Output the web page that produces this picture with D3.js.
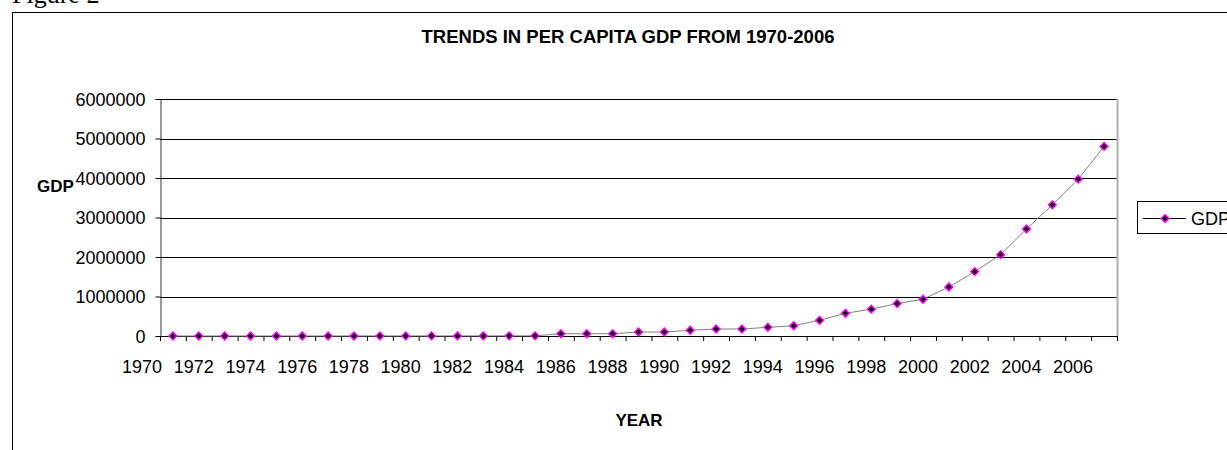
<!DOCTYPE html>
<html>
<head>
<meta charset="utf-8">
<script src="https://cdn.jsdelivr.net/npm/d3@7"></script>
<style>
  body { margin: 0; background: #fff; }
  svg { display: block; font-family: "Liberation Sans", Arial, sans-serif; }
</style>
</head>
<body>
<div id="chart"></div>
<script>
// per capita GDP, 1970-2006
const years = d3.range(1970, 2007);
const gdp = [
  500, 600, 700, 800, 900, 1000, 1200, 1400, 1600, 1800,
  2000, 2500, 3000, 3500, 4000, 58000, 58000, 58000, 100000, 100000,
  145000, 177000, 177000, 220000, 260000, 397000, 575000, 680000, 820000, 930000,
  1240000, 1630000, 2060000, 2710000, 3320000, 3970000, 4800000
];
const yTicks = [0, 1000000, 2000000, 3000000, 4000000, 5000000, 6000000];
const yearLabels = years.filter(y => y % 2 === 0);

const width = 1227, height = 450;
const plot = { left: 160, right: 1117, top: 99, bottom: 336 };

const svg = d3.select("#chart").append("svg")
  .attr("width", width)
  .attr("height", height);

// caption above the frame
svg.append("text")
  .attr("x", 12).attr("y", 3)
  .attr("font-family", "Liberation Serif, Times New Roman, serif")
  .attr("font-size", 26)
  .text("Figure 2");

// outer frame (runs off the page right and bottom)
svg.append("rect")
  .attr("x", 12.5).attr("y", 12.5)
  .attr("width", 1400).attr("height", 600)
  .attr("fill", "none").attr("stroke", "#000");

const x = d3.scaleBand().domain(years).range([plot.left, plot.right]).padding(0);
const y = d3.scaleLinear().domain([0, 6000000]).range([plot.bottom, plot.top]);

// gridlines
svg.append("g").selectAll("line")
  .data(yTicks.filter(d => d > 0))
  .enter().append("line")
  .attr("x1", plot.left).attr("x2", plot.right)
  .attr("y1", d => Math.round(y(d)) + 0.5).attr("y2", d => Math.round(y(d)) + 0.5)
  .attr("stroke", "#000");

// plot area right border
svg.append("line")
  .attr("x1", plot.right + 0.5).attr("x2", plot.right + 0.5)
  .attr("y1", plot.top).attr("y2", plot.bottom)
  .attr("stroke", "#b0b0b0").attr("stroke-width", 2);

// y axis
const yAxis = svg.append("g")
  .attr("transform", `translate(${plot.left + 0.5},0)`)
  .call(d3.axisLeft(y).tickValues(yTicks).tickFormat(d3.format("d")).tickSize(5).tickPadding(10));
yAxis.select(".domain").attr("stroke", "#333");
yAxis.selectAll("text").attr("font-size", 18).attr("font-family", "Liberation Sans, Arial, sans-serif")
  .attr("fill", "#000").attr("dy", "0.35em");
yAxis.selectAll(".tick line").attr("stroke", "#000");

// x axis: ticks on band edges
const xg = svg.append("g");
xg.append("line")
  .attr("x1", plot.left).attr("x2", plot.right)
  .attr("y1", plot.bottom + 0.5).attr("y2", plot.bottom + 0.5)
  .attr("stroke", "#000");
xg.selectAll(".xt")
  .data(years.concat([null]))
  .enter().append("line")
  .attr("class", "xt")
  .attr("x1", d => (d === null ? plot.right : x(d)) + 0.5)
  .attr("x2", d => (d === null ? plot.right : x(d)) + 0.5)
  .attr("y1", plot.bottom).attr("y2", plot.bottom + 5)
  .attr("stroke", "#000");
xg.selectAll(".xl")
  .data(yearLabels)
  .enter().append("text")
  .attr("class", "xl")
  .attr("x", d => x(d) + 2)
  .attr("y", plot.bottom + 37)
  .attr("text-anchor", "end")
  .attr("font-size", 18)
  .text(d => d);

// line + markers
const line = d3.line()
  .x((d, i) => x(years[i]) + x.bandwidth() / 2)
  .y(d => y(d));

svg.append("path")
  .datum(gdp)
  .attr("d", line)
  .attr("fill", "none")
  .attr("stroke", "#808080")
  .attr("stroke-width", 1);

// square turned 45 degrees, as the spreadsheet draws it
const diamond = d3.symbol().type(d3.symbolSquare).size(30);
svg.append("g").selectAll("path")
  .data(gdp)
  .enter().append("path")
  .attr("d", diamond)
  .attr("transform", (d, i) => `translate(${x(years[i]) + x.bandwidth() / 2},${y(d)}) rotate(45)`)
  .attr("fill", "#000")
  .attr("stroke", "#ff00ff")
  .attr("stroke-width", 1.5);

// titles
svg.append("text")
  .attr("x", 628).attr("y", 43)
  .attr("text-anchor", "middle")
  .attr("font-weight", "bold").attr("font-size", 18.5)
  .text("TRENDS IN PER CAPITA GDP FROM 1970-2006");

svg.append("text")
  .attr("x", 37).attr("y", 192)
  .attr("font-weight", "bold").attr("font-size", 17)
  .text("GDP");

svg.append("text")
  .attr("x", 639).attr("y", 426)
  .attr("text-anchor", "middle")
  .attr("font-weight", "bold").attr("font-size", 17)
  .text("YEAR");

// legend
const lg = svg.append("g").attr("transform", "translate(1137,201)");
lg.append("rect")
  .attr("x", 0.5).attr("y", 0.5)
  .attr("width", 200).attr("height", 32)
  .attr("fill", "#fff").attr("stroke", "#000");
lg.append("line")
  .attr("x1", 6).attr("x2", 49).attr("y1", 17.5).attr("y2", 17.5)
  .attr("stroke", "#000");
lg.append("path")
  .attr("d", diamond)
  .attr("transform", "translate(28,17.5) rotate(45)")
  .attr("fill", "#000").attr("stroke", "#ff00ff").attr("stroke-width", 1.5);
lg.append("text")
  .attr("x", 54).attr("y", 24)
  .attr("font-size", 18)
  .text("GDP");
</script>
</body>
</html>
